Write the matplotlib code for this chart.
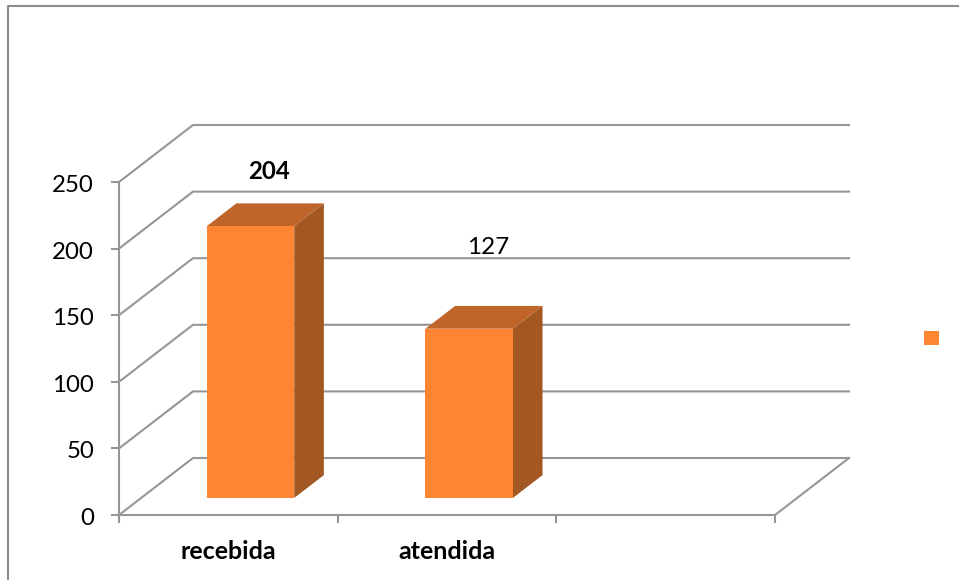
import matplotlib.pyplot as plt
from matplotlib.lines import Line2D
from matplotlib.patches import Polygon, Rectangle
from matplotlib.transforms import ScaledTranslation

categories = ["recebida", "atendida", ""]
values = [204, 127]
y_ticks = [0, 50, 100, 150, 200, 250]

WIDTH, HEIGHT = 959, 580
GRID = "#969696"
FRONT = "#FF8533"
TOP = "#BF652A"
SIDE = "#A35722"

# oblique projection of the 3d box, in data units
DEPTH_X = 74 / 218.67
DEPTH_Y = 57 / 1.332


def project(x, value, depth):
    return x + depth * DEPTH_X, value + depth * DEPTH_Y


plt.rcParams["font.family"] = ["Lato", "DejaVu Sans"]

fig = plt.figure(figsize=(WIDTH / 100, HEIGHT / 100), dpi=100)
ax = fig.add_axes([119 / WIDTH, 1 - 515 / HEIGHT, 656 / WIDTH, 333 / HEIGHT])
ax.set_xlim(0, len(categories))
ax.set_ylim(0, 250)
ax.patch.set_visible(False)

for side in ("top", "right"):
    ax.spines[side].set_visible(False)
for side in ("left", "bottom"):
    ax.spines[side].set_color(GRID)
    ax.spines[side].set_linewidth(1.5)

ax.set_yticks(y_ticks)
ax.tick_params(axis="y", length=6, width=1.5, color=GRID, labelsize=17.3, pad=12)
ax.set_xticks(range(len(categories) + 1))
ax.set_xticklabels([])
ax.tick_params(axis="x", which="major", length=6, width=1.5, color=GRID)
ax.set_xticks([i + 0.5 for i in range(len(categories))], categories, minor=True)
ax.tick_params(axis="x", which="minor", length=0, labelsize=18, pad=18)
for label in ax.get_xticklabels(minor=True):
    label.set_fontweight("bold")

# digits sit slightly lower than matplotlib centres them
shift_down = ScaledTranslation(0, -1.5 / 100, fig.dpi_scale_trans)
for label in ax.get_yticklabels():
    label.set_transform(label.get_transform() + shift_down)

# side wall and back wall gridlines
for tick in y_ticks:
    xs, ys = zip(project(0, tick, 0), project(0, tick, 1), project(len(categories), tick, 1))
    ax.plot(xs, ys, color=GRID, lw=1.5, clip_on=False, solid_joinstyle="miter", zorder=1)
xs, ys = zip(project(len(categories), 0, 0), project(len(categories), 0, 1))
ax.plot(xs, ys, color=GRID, lw=1.5, clip_on=False, zorder=1)

# bars
BAR_WIDTH = 0.4
for i, value in enumerate(values):
    left = i + 0.5 - BAR_WIDTH / 2
    right = i + 0.5 + BAR_WIDTH / 2
    front = [project(left, 0, 0.3), project(right, 0, 0.3), project(right, value, 0.3), project(left, value, 0.3)]
    side = [project(right, 0, 0.3), project(right, 0, 0.7), project(right, value, 0.7), project(right, value, 0.3)]
    top = [project(left, value, 0.3), project(right, value, 0.3), project(right, value, 0.7), project(left, value, 0.7)]
    for points, color in ((side, SIDE), (top, TOP), (front, FRONT)):
        ax.add_patch(Polygon(points, closed=True, facecolor=color, edgecolor="none", clip_on=False, zorder=3))

# data labels sit above the bars, each at its own height
ax.text(0.686, 258, str(values[0]), ha="center", va="center", fontsize=17.3, fontweight="bold", zorder=4)
ax.text(1.687, 201, str(values[1]), ha="center", va="center", fontsize=17.5, zorder=4)

# chart frame, only the top and left edges are inside the crop
fig.add_artist(Line2D([8 / WIDTH, 8 / WIDTH, 1], [0, 1 - 6 / HEIGHT, 1 - 6 / HEIGHT], color="#8C8C8C", lw=1.5))

# legend key with no text
fig.add_artist(Rectangle((924 / WIDTH, 1 - 345 / HEIGHT), 15 / WIDTH, 14 / HEIGHT, transform=fig.transFigure, facecolor=FRONT, edgecolor="none"))

fig.savefig("out.png", dpi=100, facecolor="white")
plt.close(fig)
